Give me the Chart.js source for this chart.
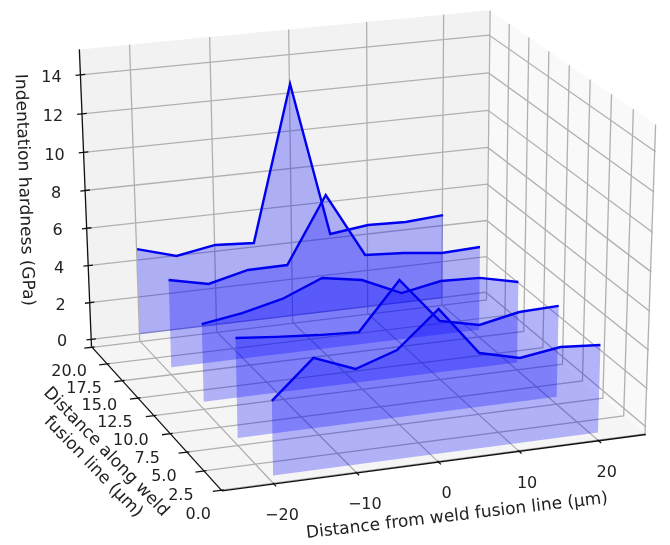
<!DOCTYPE html>
<html>
<head>
<meta charset="utf-8">
<style>
  body { margin: 0; background: #fff; }
  canvas { display: block; filter: blur(0.4px); }
</style>
<script src="https://cdn.jsdelivr.net/npm/chart.js@4"></script>
</head>
<body>
<canvas id="chart" width="670" height="545"></canvas>
<script>
// values
const distFromLine = [-20, -15, -10, -5, 0, 5, 10, 15, 20];
const alongLine = [20, 15, 10, 5, 0];
const hardness20 = [4.63, 4.02, 4.38, 4.25, 12.5, 4.27, 4.53, 4.46, 4.61];
const hardness15 = [4.67, 4.22, 4.72, 4.74, 8.21, 4.8, 4.67, 4.43, 4.52];
const hardness10 = [4.1, 4.42, 4.91, 5.76, 5.41, 4.48, 4.87, 4.79, 4.33];
const hardness5 = [5.16, 4.96, 4.8, 4.7, 7.12, 4.77, 4.31, 4.73, 4.8];
const hardness0 = [3.8, 5.7, 4.88, 5.58, 7.39, 4.91, 4.4, 4.7, 4.55];
const hardness = [hardness20, hardness15, hardness10, hardness5, hardness0];

const xTicks = [-20, -10, 0, 10, 20];
const yTicks = [0, 2.5, 5, 7.5, 10, 12.5, 15, 17.5, 20];
const zTicks = [0, 2, 4, 6, 8, 10, 12, 14];
const xLim = [-26.2, 26];
const yLim = [-0.1, 20.1];
const zLim = [-0.4, 15.3];

// camera matrix for the 3d box, fitted against the picture
const cam = [
    [8.421619, -5.948666, -1.036178, 437.7683],
    [-0.7642868, -5.506731, -20.40355, 453.6801],
    [0.0006858725, 0.004366192, -0.002634285, 1],
];

function project(x, y, z) {
    const row = r => r[0] * x + r[1] * y + r[2] * z + r[3];
    const d = row(cam[2]);
    return { x: row(cam[0]) / d, y: row(cam[1]) / d };
}

const datasets = [];

function addLine(points, color, width) {
    datasets.push({
        data: points.map(p => project(p[0], p[1], p[2])),
        showLine: true,
        borderColor: color,
        borderWidth: width,
        pointRadius: 0,
        fill: false,
    });
}

function addShape(points, color) {
    datasets.push({
        data: points.map(p => project(p[0], p[1], p[2])),
        showLine: true,
        borderWidth: 0,
        pointRadius: 0,
        fill: 'shape',
        backgroundColor: color,
    });
}

const [x0, x1] = xLim;
const [y0, y1] = yLim;
const [z0, z1] = zLim;

// panes
addShape([[x0, y1, z0], [x0, y1, z1], [x1, y1, z1], [x1, y1, z0]], '#f2f2f2');
addShape([[x1, y0, z0], [x1, y0, z1], [x1, y1, z1], [x1, y1, z0]], '#f9f9f9');
addShape([[x0, y0, z0], [x0, y1, z0], [x1, y1, z0], [x1, y0, z0]], '#f5f5f5');

// grid
const gridColor = '#b0b0b0';
xTicks.forEach(x => {
    addLine([[x, y0, z0], [x, y1, z0], [x, y1, z1]], gridColor, 1.3);
});
yTicks.forEach(y => {
    addLine([[x0, y, z0], [x1, y, z0], [x1, y, z1]], gridColor, 1.3);
});
zTicks.forEach(z => {
    addLine([[x0, y1, z], [x1, y1, z], [x1, y0, z]], gridColor, 1.3);
});

// filled curtains, back to front
alongLine.forEach((y, i) => {
    const top = distFromLine.map((x, j) => [x, y, hardness[i][j]]);
    addShape([[-20, y, 0], ...top, [20, y, 0]], 'rgba(0,0,255,0.28)');
});

// axes and ticks
const axisColor = '#111';
addLine([[x0, y1, z0], [x0, y1, z1]], axisColor, 1.3);
addLine([[x0, y1, z0], [x0, y0, z0]], axisColor, 1.3);
addLine([[x0, y0, z0], [x1, y0, z0]], axisColor, 1.3);
zTicks.forEach(z => addLine([[x0 - 0.6, y1, z], [x0 + 0.6, y1, z]], axisColor, 1.3));
yTicks.forEach(y => addLine([[x0 - 1, y, z0], [x0 + 0.3, y, z0]], axisColor, 1.3));
xTicks.forEach(x => addLine([[x, y0 - 0.3, z0], [x, y0 + 0.15, z0]], axisColor, 1.3));

// hardness curves
alongLine.forEach((y, i) => {
    addLine(distFromLine.map((x, j) => [x, y, hardness[i][j]]), '#0000f0', 2.4);
});

// chart.js paints the last dataset first
datasets.reverse();

const axisText = {
    id: 'axisText',
    afterDraw(chart) {
        const ctx = chart.ctx;
        ctx.save();
        ctx.fillStyle = '#222';
        ctx.font = '16px "DejaVu Sans"';
        ctx.textAlign = 'center';
        ctx.textBaseline = 'middle';
        const sx = chart.scales.x, sy = chart.scales.y;
        const put = (p, dx, dy, s) => {
            ctx.fillText(s, sx.getPixelForValue(p.x) + dx, sy.getPixelForValue(p.y) + dy);
        };
        xTicks.forEach(x => put(project(x, y0, z0), 8, 32, String(x).replace('-', '\u2212')));
        yTicks.forEach(y => put(project(x0, y, z0), -23, 25, y.toFixed(1)));
        zTicks.forEach(z => put(project(x0, y1, z), -29, 3, String(z)));
        const turned = (s, x, y, deg) => {
            ctx.save();
            ctx.translate(x, y);
            ctx.rotate(deg * Math.PI / 180);
            ctx.fillText(s, 0, 0);
            ctx.restore();
        };
        ctx.font = '17px "DejaVu Sans"';
        turned('Indentation hardness (GPa)', 24, 190, 88);
        turned('Distance from weld fusion line (\u03bcm)', 457, 516, -6.7);
        turned('Distance along weld', 106, 452, 46);
        turned('fusion line (\u03bcm)', 93, 467, 46);
        ctx.restore();
    },
};

new Chart(document.getElementById('chart'), {
    type: 'scatter',
    data: { datasets },
    options: {
        responsive: false,
        animation: false,
        layout: { padding: 0 },
        plugins: { legend: { display: false }, tooltip: { enabled: false } },
        scales: {
            x: { display: false, min: 0, max: 670 },
            y: { display: false, min: 0, max: 545, reverse: true },
        },
    },
    plugins: [axisText],
});
</script>
</body>
</html>
